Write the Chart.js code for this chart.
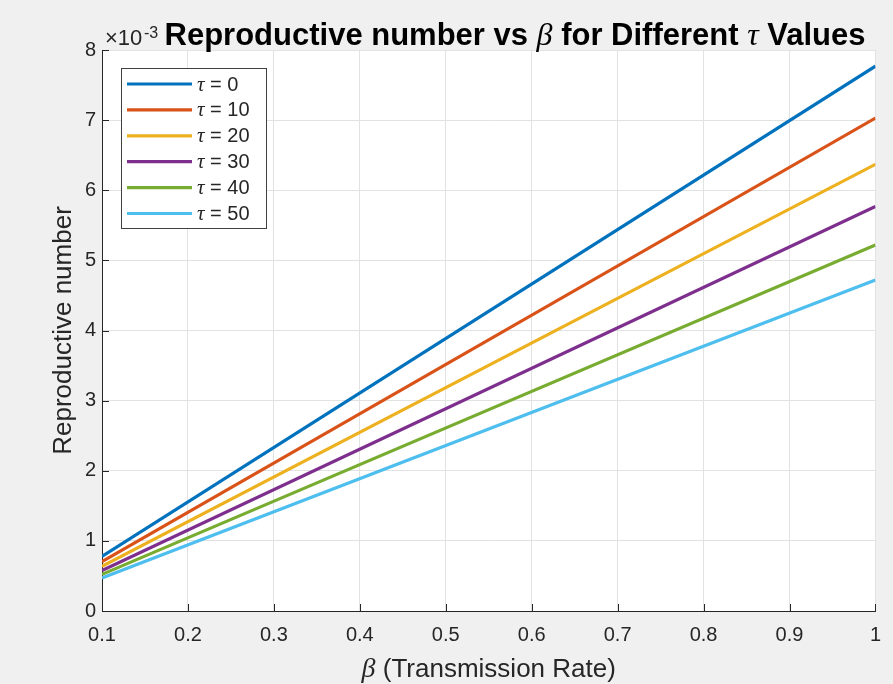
<!DOCTYPE html>
<html>
<head>
<meta charset="utf-8">
<script src="https://cdn.jsdelivr.net/npm/chart.js@4"></script>
<style>
  html, body { margin: 0; padding: 0; background: #f0f0f0; }
  canvas { display: block; }
</style>
</head>
<body>
<canvas id="chart" width="893" height="684"></canvas>
<script>
// transmission rate (x) and reproductive number in units of 1e-3 (y)
const beta = [0.1, 1.0];
const tauLabels = ['0', '10', '20', '30', '40', '50'];
const r0Tau0 = [0.777, 7.77];
const r0Tau10 = [0.703, 7.03];
const r0Tau20 = [0.637, 6.37];
const r0Tau30 = [0.577, 5.77];
const r0Tau40 = [0.522, 5.22];
const r0Tau50 = [0.472, 4.72];
const yTicks = [0, 1, 2, 3, 4, 5, 6, 7, 8];
const xTicks = [0.1, 0.2, 0.3, 0.4, 0.5, 0.6, 0.7, 0.8, 0.9, 1];

const series = [r0Tau0, r0Tau10, r0Tau20, r0Tau30, r0Tau40, r0Tau50];
const colors = ['#0072BD', '#D95319', '#EDB120', '#7E2F8E', '#77AC30', '#4DBEEE'];

const SANS = '"Liberation Sans", Arial, sans-serif';
const SERIF = '"Liberation Serif", "Times New Roman", serif';
const INK = '#262626';

const datasets = series.map((vals, i) => ({
    label: 'τ = ' + tauLabels[i],
    data: vals.map((v, j) => ({ x: beta[j], y: v })),
    borderColor: colors[i],
    backgroundColor: colors[i],
    borderWidth: 3.2,
    pointRadius: 0,
    fill: false,
    // later series sit on top of earlier ones
    order: series.length - i
}));

// draw a run of text pieces with their own fonts, left to right
function drawRuns(ctx, runs, x, y, align) {
    let total = 0;
    runs.forEach(r => { ctx.font = r.font; total += ctx.measureText(r.text).width; });
    let cx = align === 'center' ? x - total / 2 : x;
    ctx.textAlign = 'left';
    runs.forEach(r => {
        ctx.font = r.font;
        ctx.fillText(r.text, cx, y);
        cx += ctx.measureText(r.text).width;
    });
}

const decorations = {
    id: 'decorations',
    afterDatasetsDraw(chart) {
        const ctx = chart.ctx;
        const area = chart.chartArea;
        const xs = chart.scales.x, ys = chart.scales.y;
        ctx.save();

        // inward tick marks
        ctx.strokeStyle = INK;
        ctx.lineWidth = 1;
        ctx.beginPath();
        xTicks.forEach(t => {
            const px = Math.round(xs.getPixelForValue(t)) + 0.5;
            ctx.moveTo(px, area.bottom);
            ctx.lineTo(px, area.bottom - 7);
        });
        yTicks.forEach(t => {
            const py = Math.round(ys.getPixelForValue(t)) + 0.5;
            ctx.moveTo(area.left, py);
            ctx.lineTo(area.left + 7, py);
        });
        ctx.stroke();

        // legend box
        const lx = 121, ly = 68, lw = 145, lh = 160;
        ctx.fillStyle = '#ffffff';
        ctx.fillRect(lx, ly, lw, lh);
        ctx.strokeStyle = '#404040';
        ctx.lineWidth = 1;
        ctx.strokeRect(lx + 0.5, ly + 0.5, lw, lh);
        chart.data.datasets.forEach((ds, i) => {
            const y = ly + 16 + i * 25.9;
            ctx.strokeStyle = ds.borderColor;
            ctx.lineWidth = 3.2;
            ctx.beginPath();
            ctx.moveTo(lx + 6, y);
            ctx.lineTo(lx + 71, y);
            ctx.stroke();
            ctx.fillStyle = INK;
            ctx.textBaseline = 'middle';
            drawRuns(ctx, [
                { text: 'τ', font: 'italic 21px ' + SERIF },
                { text: ' = ' + tauLabels[i], font: '20px ' + SANS }
            ], lx + 76, y + 1, 'left');
        });
        ctx.restore();
    },
    afterDraw(chart) {
        const ctx = chart.ctx;
        const area = chart.chartArea;
        ctx.save();
        ctx.fillStyle = INK;
        ctx.textBaseline = 'alphabetic';

        // exponent marker above the y axis
        ctx.font = '22px ' + SANS;
        ctx.textAlign = 'left';
        ctx.fillText('×10', 105, 45);
        ctx.font = '16px ' + SANS;
        ctx.fillText('-3', 144, 38);

        // title
        ctx.fillStyle = '#000000';
        drawRuns(ctx, [
            { text: 'Reproductive number vs ', font: 'bold 31px ' + SANS },
            { text: 'β', font: 'italic 32px ' + SERIF },
            { text: ' for Different ', font: 'bold 31px ' + SANS },
            { text: 'τ', font: 'italic 32px ' + SERIF },
            { text: ' Values', font: 'bold 31px ' + SANS }
        ], 515, 45, 'center');

        // x axis title
        ctx.fillStyle = INK;
        drawRuns(ctx, [
            { text: 'β', font: 'italic 28px ' + SERIF },
            { text: ' (Transmission Rate)', font: '26px ' + SANS }
        ], (area.left + area.right) / 2, 677, 'center');

        // y axis title
        ctx.translate(71, (area.top + area.bottom) / 2);
        ctx.rotate(-Math.PI / 2);
        ctx.font = '26px ' + SANS;
        ctx.textAlign = 'center';
        ctx.fillText('Reproductive number', 0, 0);
        ctx.restore();
    }
};

const background = {
    id: 'background',
    beforeDraw(chart) {
        const ctx = chart.ctx;
        const a = chart.chartArea;
        ctx.save();
        ctx.fillStyle = '#f0f0f0';
        ctx.fillRect(0, 0, chart.width, chart.height);
        ctx.fillStyle = '#ffffff';
        ctx.fillRect(a.left, a.top, a.right - a.left, a.bottom - a.top);
        ctx.restore();
    }
};

new Chart(document.getElementById('chart').getContext('2d'), {
    type: 'line',
    data: { datasets: datasets },
    options: {
        responsive: false,
        animation: false,
        layout: { padding: { left: 0, top: 50, right: 17, bottom: 0 } },
        plugins: {
            legend: { display: false },
            tooltip: { enabled: false }
        },
        scales: {
            x: {
                type: 'linear',
                min: 0.1,
                max: 1,
                afterFit: s => { s.height = 73; },
                afterBuildTicks: s => { s.ticks = xTicks.map(v => ({ value: v })); },
                grid: { color: '#e2e2e2', drawTicks: false },
                border: { color: INK, width: 1 },
                ticks: {
                    padding: 12,
                    color: INK,
                    font: { family: SANS, size: 20 },
                    callback: v => String(+v.toFixed(1))
                }
            },
            y: {
                type: 'linear',
                min: 0,
                max: 8,
                afterFit: s => { s.width = 102; },
                afterBuildTicks: s => { s.ticks = yTicks.map(v => ({ value: v })); },
                grid: { color: '#e2e2e2', drawTicks: false },
                border: { color: INK, width: 1 },
                ticks: {
                    padding: 6,
                    color: INK,
                    font: { family: SANS, size: 20 },
                    callback: v => String(v)
                }
            }
        }
    },
    plugins: [background, decorations]
});
</script>
</body>
</html>
